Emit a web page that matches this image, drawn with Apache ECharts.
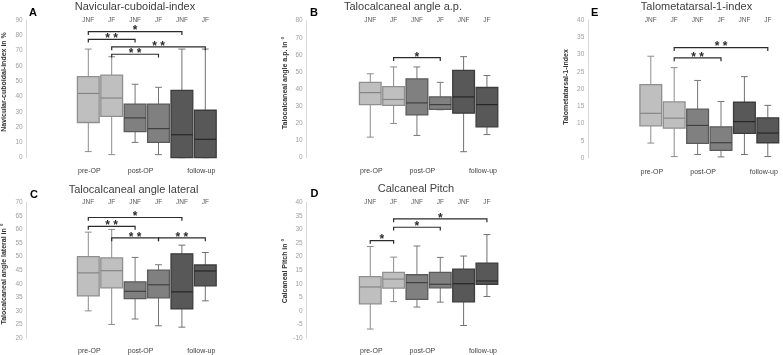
<!DOCTYPE html>
<html><head><meta charset="utf-8">
<script src="https://cdn.jsdelivr.net/npm/echarts@6/dist/echarts.min.js"></script>
<style>html,body{margin:0;padding:0;background:#fff}#c{width:783px;height:355px}</style>
</head><body><div id="c"></div>
<script>
// ---- data ----
const groupLabels = ['JNF', 'JF', 'JNF', 'JF', 'JNF', 'JF'];
const timeLabels = ['pre-OP', 'post-OP', 'follow-up'];
const timeLabelSlots = [0, 2, 5];

// five-number summaries [min, q1, median, q3, max]; order: JNF pre, JF pre, JNF post, JF post, JNF follow-up, JF follow-up
const navicularCuboidal = [[4, 23, 42, 53, 71], [2, 27, 39, 54, 66], [10, 17, 26, 35, 48], [2, 10, 19, 35, 46], [0, 0, 15, 44, 71], [0, 0, 12, 31, 71]];
const talocalcanealAP = [[12, 31, 38, 44, 49], [20, 30.5, 34, 41.5, 53], [13, 25, 32, 46, 53], [28, 28.2, 31, 35.5, 44], [3.5, 26, 35.5, 51, 59], [13.5, 18, 31, 41, 48]];
const talocalcanealLat = [[30, 35.5, 44, 50, 59], [25, 38.5, 44.8, 49.5, 60], [27, 34.5, 37.2, 40.7, 49.7], [24.5, 34.8, 39.6, 45, 47], [24, 30.7, 37, 51, 54.2], [33.7, 39.2, 44.7, 46.9, 51.5]];
const calcanealPitch = [[-6.7, 2.6, 8.8, 12.6, 23.7], [3.4, 8.4, 11.7, 14.2, 19.8], [1.4, 4.2, 10.4, 13.3, 23.9], [3.2, 8.5, 9.8, 14.2, 19.7], [-5.4, 3.3, 10, 15.4, 20.2], [5.3, 9.8, 11, 17.6, 28.1]];
const talometatarsal = [[4.4, 9.4, 13, 21.3, 29.5], [0.5, 8.7, 11.6, 16.3, 26.2], [1.1, 4.3, 9.5, 14.2, 22.5], [0.4, 2.3, 4.5, 9.1, 16.4], [1.1, 7.2, 10.6, 16.2, 23.6], [0.5, 4.5, 7.3, 11.7, 15.3]];

// significance brackets: [fromBox, toBox, level, mark]
const sigNavicular = [[0, 4, 82.4, '*'], [0, 2, 77.4, '**'], [1, 5, 72.4, '**'], [1, 3, 67.6, '**']];
const sigAP = [[1, 3, 58.4, '*']];
const sigLat = [[0, 4, 64.4, '*'], [0, 2, 61.1, '**'], [1, 3, 56.9, '**'], [3, 5, 56.9, '**']];
const sigPitch = [[0, 1, 25.9, '*'], [1, 3, 30.8, '*'], [1, 5, 33.9, '*']];
const sigTalomet = [[1, 3, 29.0, '**'], [1, 5, 32.0, '**']];

// y-axis ranges [min, max, interval]
const yNavicular = [0, 90, 10];
const yAP = [0, 80, 10];
const yLat = [20, 70, 5];
const yPitch = [-10, 40, 5];
const yTalomet = [0, 40, 5];

// ---- layout / style ----
const panels = [
  {letter: 'A', title: 'Navicular-cuboidal-index', yName: 'Navicular-cuboidal-index in %', data: navicularCuboidal, sig: sigNavicular, y: yNavicular,
   grid: {left: 76.6, top: 20, width: 140.4, height: 137.7}, axisX: 26.7, titlePos: [135, 6.5], letterPos: [29, 13], yNamePos: [4.5, 82]},
  {letter: 'B', title: 'Talocalcaneal angle a.p.', yName: 'Talocalcaneal angle a.p. in °', data: talocalcanealAP, sig: sigAP, y: yAP,
   grid: {left: 358.6, top: 20.7, width: 140, height: 137}, axisX: 306.7, titlePos: [403, 6.5], letterPos: [310, 13], yNamePos: [285.5, 83]},
  {letter: 'C', title: 'Talocalcaneal angle lateral', yName: 'Talocalcaneal angle lateral in °', data: talocalcanealLat, sig: sigLat, y: yLat,
   grid: {left: 76.6, top: 202.3, width: 140.4, height: 137.7}, axisX: 26.7, titlePos: [133.5, 190], letterPos: [30, 194.7], yNamePos: [4, 274]},
  {letter: 'D', title: 'Calcaneal Pitch', yName: 'Calcaneal Pitch in °', data: calcanealPitch, sig: sigPitch, y: yPitch,
   grid: {left: 358.6, top: 202.3, width: 140, height: 137.7}, axisX: 306.7, titlePos: [416, 188.5], letterPos: [310.5, 194], yNamePos: [285.5, 271]},
  {letter: 'E', title: 'Talometatarsal-1-index', yName: 'Talometatarsal-1-index', data: talometatarsal, sig: sigTalomet, y: yTalomet,
   grid: {left: 639.1, top: 19.9, width: 140.4, height: 138.4}, axisX: 588.3, titlePos: [696.5, 6.5], letterPos: [591, 13], yNamePos: [566.5, 87]}
];

const groupStyles = [
  {fill: '#bfbfbf', border: '#8f8f8f', median: '#858585', whisker: '#8c8c8c'},
  {fill: '#808080', border: '#5a5a5a', median: '#404040', whisker: '#767676'},
  {fill: '#585858', border: '#3c3c3c', median: '#262626', whisker: '#707070'}
];
const FONT = 'Liberation Sans';

function boxRender(params, api) {
  const x = api.value(0);
  const mn = api.value(1), q1 = api.value(2), md = api.value(3), q3 = api.value(4), mx = api.value(5);
  const st = groupStyles[api.value(6)];
  const band = api.size([1, 0])[0];
  const w = band * 0.93;
  const cx = api.coord([x, md])[0];
  const Y = v => api.coord([x, v])[1];
  const cap = 3.4;
  const ws = {stroke: st.whisker, lineWidth: 1};
  return {type: 'group', children: [
    {type: 'line', shape: {x1: cx, y1: Y(q3), x2: cx, y2: Y(mx)}, style: ws},
    {type: 'line', shape: {x1: cx - cap, y1: Y(mx), x2: cx + cap, y2: Y(mx)}, style: ws},
    {type: 'line', shape: {x1: cx, y1: Y(q1), x2: cx, y2: Y(mn)}, style: ws},
    {type: 'line', shape: {x1: cx - cap, y1: Y(mn), x2: cx + cap, y2: Y(mn)}, style: ws},
    {type: 'rect', shape: {x: cx - w / 2, y: Y(q3), width: w, height: Y(q1) - Y(q3)}, style: {fill: st.fill, stroke: st.border, lineWidth: 1.3}},
    {type: 'line', shape: {x1: cx - w / 2, y1: Y(md), x2: cx + w / 2, y2: Y(md)}, style: {stroke: st.median, lineWidth: 1.2}}
  ]};
}

function makeSigRender(sig) {
  return function (params, api) {
    const from = api.value(0), to = api.value(1), lvl = api.value(2);
    const p1 = api.coord([from, lvl]);
    const p2 = api.coord([to, lvl]);
    const t = 3.3;
    const mark = sig[params.dataIndex][3].split('').join(' ');
    return {type: 'group', children: [
      {type: 'polyline', shape: {points: [[p1[0], p1[1] + t], [p1[0], p1[1]], [p2[0], p2[1]], [p2[0], p2[1] + t]]},
       style: {stroke: '#2b2b2b', lineWidth: 1.2, fill: null}},
      {type: 'text', x: (p1[0] + p2[0]) / 2, y: p1[1] - 0.5,
       style: {text: mark, font: 'bold 12px ' + FONT, fill: '#2b2b2b', align: 'center', verticalAlign: 'middle'}}
    ]};
  };
}

const grids = [], xAxes = [], yAxes = [], series = [], graphics = [];
panels.forEach((p, i) => {
  grids.push(Object.assign({containLabel: false}, p.grid));
  xAxes.push({
    type: 'category', gridIndex: i, position: 'top', data: groupLabels,
    axisLine: {show: false}, axisTick: {show: false}, splitLine: {show: false},
    axisLabel: {interval: 0, margin: 0, verticalAlign: 'middle', fontSize: 6.5, fontFamily: FONT, color: '#595959'}
  });
  const bottomData = groupLabels.map(() => '');
  const pads = [[0, 0, 0, 2], [0, 0, 0, 11], [0, 8, 0, 0]];
  timeLabelSlots.forEach((s, k) => { bottomData[s] = {value: timeLabels[k], textStyle: {padding: pads[k]}}; });
  xAxes.push({
    type: 'category', gridIndex: i, position: 'bottom', data: bottomData,
    axisLine: {show: false}, axisTick: {show: false}, splitLine: {show: false},
    axisLabel: {interval: 0, margin: 10, verticalAlign: 'middle', fontSize: 7, fontFamily: FONT, color: '#404040'}
  });
  yAxes.push({
    type: 'value', gridIndex: i, min: p.y[0], max: p.y[1], interval: p.y[2],
    offset: p.grid.left - p.axisX,
    axisLine: {show: true, lineStyle: {color: '#d9d9d9', width: 1}},
    axisTick: {show: false}, splitLine: {show: false},
    axisLabel: {margin: 4, fontSize: 6.5, fontFamily: FONT, color: '#a0a0a0'}
  });
  series.push({
    type: 'custom', xAxisIndex: i * 2, yAxisIndex: i, silent: true,
    data: p.data.map((v, k) => [k, v[0], v[1], v[2], v[3], v[4], Math.floor(k / 2)]),
    renderItem: boxRender
  });
  series.push({
    type: 'custom', xAxisIndex: i * 2, yAxisIndex: i, silent: true, z: 5,
    data: p.sig.map(s => [s[0], s[1], s[2]]),
    renderItem: makeSigRender(p.sig)
  });
  graphics.push({type: 'text', x: p.titlePos[0], y: p.titlePos[1],
    style: {text: p.title, font: '11px ' + FONT, fill: '#404040', align: 'center', verticalAlign: 'middle'}});
  graphics.push({type: 'text', x: p.letterPos[0], y: p.letterPos[1],
    style: {text: p.letter, font: 'bold 11px ' + FONT, fill: '#000', align: 'left', verticalAlign: 'middle'}});
  graphics.push({type: 'text', x: p.yNamePos[0], y: p.yNamePos[1], rotation: Math.PI / 2,
    style: {text: p.yName, font: 'bold 7px ' + FONT, fill: '#333', align: 'center', verticalAlign: 'middle'}});
});

const chart = echarts.init(document.getElementById('c'), null, {renderer: 'canvas'});
chart.setOption({
  animation: false,
  backgroundColor: '#fff',
  grid: grids, xAxis: xAxes, yAxis: yAxes, series: series, graphic: graphics
});
</script></body></html>
